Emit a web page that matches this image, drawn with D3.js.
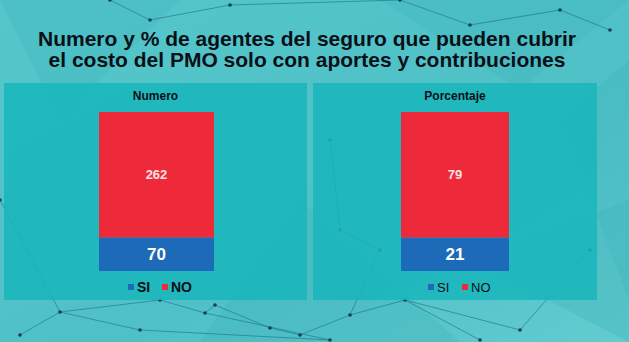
<!DOCTYPE html>
<meta charset="utf-8">
<head>
</head>
<body style="margin:0">
<style>
body { background: #52c4c9; }
text { font-family: "Liberation Sans", Arial, sans-serif; }
.net line { stroke: #1d6f86; stroke-opacity: 0.6; stroke-width: 1; }
.net circle { fill: #123e5c; }
</style>
<svg width="629" height="342"></svg>
<script src="https://d3js.org/d3.v7.min.js"></script>
<script>
// data
var series = ["SI", "NO"];
var colors = ["#1d6bb8", "#ee2a3a"];
var panelTitles = ["Numero", "Porcentaje"];
var numeroValues = [70, 262];
var porcentajeValues = [21, 79];
var chartTitle = ["Numero y % de agentes del seguro que pueden cubrir",
                  "el costo del PMO solo con aportes y contribuciones"];

var svg = d3.select("svg"),
  width = +svg.attr("width"),
  height = +svg.attr("height");

// background
var defs = svg.append("defs");
var grad = defs.append("linearGradient").attr("id", "bg")
  .attr("x1", 0).attr("y1", 0).attr("x2", 1).attr("y2", 1);
grad.append("stop").attr("offset", "0%").attr("stop-color", "#55c7cb");
grad.append("stop").attr("offset", "60%").attr("stop-color", "#4fc1c6");
grad.append("stop").attr("offset", "100%").attr("stop-color", "#62cbd0");
svg.append("rect").attr("width", width).attr("height", height).attr("fill", "url(#bg)");

// faint decorative facets and network lines
var facets = [
  [[0,0],[180,0],[60,120]], [[380,0],[629,0],[520,90]], [[560,120],[629,60],[629,300]],
  [[300,200],[460,342],[200,342]], [[470,260],[629,200],[629,342]]
];
svg.append("g").selectAll("path").data(facets).enter().append("path")
  .attr("d", function(d) { return "M" + d.join("L") + "Z"; })
  .attr("fill", "#3fb4bb").attr("fill-opacity", 0.35);

var nodes = [[20,335],[60,312],[140,330],[160,300],[205,313],[215,305],[270,328],[300,335],
  [350,315],[405,300],[480,340],[520,330],[330,340],[110,0],[150,20],[230,5],[400,0],
  [470,25],[560,10],[610,30],[0,200],[330,140],[340,230],[380,250],[590,250]];
var links = [[0,1],[1,2],[1,3],[3,4],[4,5],[5,6],[6,7],[7,8],[8,9],[9,10],[9,11],[4,12],[2,12],
  [13,14],[14,15],[15,16],[16,17],[17,18],[18,19],[20,1],[21,22],[22,23],[23,8],[11,24]];
var net = svg.append("g").attr("class", "net");
net.selectAll("line").data(links).enter().append("line")
  .attr("x1", function(d) { return nodes[d[0]][0]; })
  .attr("y1", function(d) { return nodes[d[0]][1]; })
  .attr("x2", function(d) { return nodes[d[1]][0]; })
  .attr("y2", function(d) { return nodes[d[1]][1]; });
net.selectAll("circle").data(nodes).enter().append("circle")
  .attr("cx", function(d) { return d[0]; })
  .attr("cy", function(d) { return d[1]; })
  .attr("r", 1.8);

// title
svg.append("g").selectAll("text").data(chartTitle).enter().append("text")
  .attr("x", 307).attr("y", function(d, i) { return 46 + i * 21; })
  .attr("text-anchor", "middle")
  .attr("font-size", 21).attr("font-weight", "bold").attr("fill", "#0a0f18")
  .text(function(d) { return d; });

// panels
var panels = [
  {title: panelTitles[0], values: numeroValues, x0: 4, x1: 307, bx0: 99, bx1: 214, boldLegend: true, legendX: 128},
  {title: panelTitles[1], values: porcentajeValues, x0: 313, x1: 597, bx0: 401, bx1: 509, boldLegend: false, legendX: 428}
];

panels.forEach(function(p) {
  var g = svg.append("g");
  g.append("rect")
    .attr("x", p.x0).attr("y", 83).attr("width", p.x1 - p.x0).attr("height", 217)
    .attr("fill", "#17b6bb").attr("fill-opacity", 0.85);

  g.append("text")
    .attr("x", (p.x0 + p.x1) / 2).attr("y", 100)
    .attr("text-anchor", "middle").attr("font-size", 12).attr("font-weight", "bold")
    .attr("fill", "#0a0f18").text(p.title);

  var total = d3.sum(p.values);
  var y = d3.scaleLinear().domain([0, total]).range([271, 112]);
  var x = d3.scaleBand().domain([p.title]).range([p.bx0, p.bx1]);

  var stacked = [];
  var acc = 0;
  p.values.forEach(function(v, i) {
    stacked.push({key: series[i], v: v, y0: acc, y1: acc + v, c: colors[i]});
    acc += v;
  });

  g.selectAll("rect.bar").data(stacked).enter().append("rect")
    .attr("class", "bar")
    .attr("x", x(p.title)).attr("width", x.bandwidth())
    .attr("y", function(d) { return y(d.y1); })
    .attr("height", function(d) { return y(d.y0) - y(d.y1); })
    .attr("fill", function(d) { return d.c; });

  g.selectAll("text.lbl").data(stacked).enter().append("text")
    .attr("class", "lbl")
    .attr("x", x(p.title) + x.bandwidth() / 2)
    .attr("y", function(d) { return (y(d.y0) + y(d.y1)) / 2; })
    .attr("dy", "0.36em")
    .attr("text-anchor", "middle").attr("font-weight", "bold")
    .attr("font-size", function(d, i) { return i === 0 ? 17 : 13; })
    .attr("fill", function(d, i) { return i === 0 ? "#ffffff" : "#fbe3e3"; })
    .text(function(d) { return d.v; });

  // legend
  var lg = g.append("g").attr("transform", "translate(" + p.legendX + ",287)");
  var offs = [0, 34];
  series.forEach(function(s, i) {
    lg.append("rect").attr("x", offs[i]).attr("y", -3).attr("width", 6).attr("height", 6)
      .attr("fill", colors[i]);
    lg.append("text").attr("x", offs[i] + 9).attr("y", 0).attr("dy", "0.36em")
      .attr("font-size", p.boldLegend ? 14 : 13)
      .attr("font-weight", p.boldLegend ? "bold" : "normal")
      .attr("fill", "#0a0f18").text(s);
  });
});
</script>
</body>
